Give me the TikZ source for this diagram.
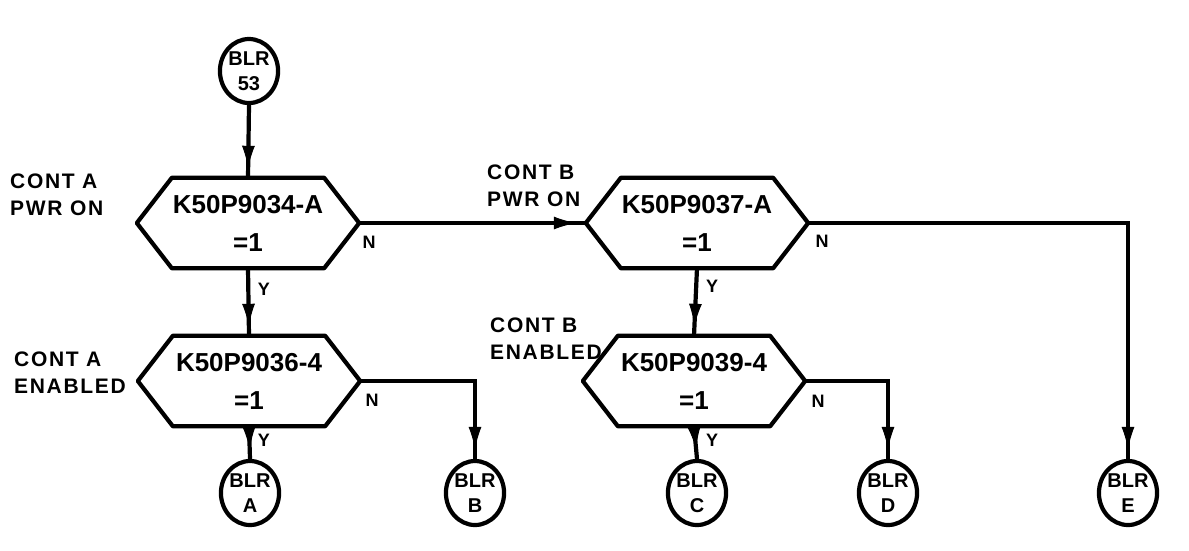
\documentclass[tikz,border=0pt]{standalone}
\usepackage{fontspec}
\setmainfont{Liberation Sans}
\newfontfamily\lblfont[LetterSpace=8]{Liberation Sans}
\usetikzlibrary{shapes.geometric,arrows.meta,decorations.markings}
\tikzset{
  conn/.style={line width=4.2pt,
    postaction={decorate,decoration={markings,
      mark=at position -10pt with {\arrow[line width=1pt]{Latex[length=22pt,width=13pt]}}}}},
  hexbox/.style={minimum width=222pt,minimum height=90pt,inner sep=0pt,
    align=center,font=\fontsize{26}{38}\selectfont\bfseries},
  hexline/.style={line width=4.2pt,line join=round},
  blr/.style={draw,ellipse,line width=4.2pt,minimum width=45pt,minimum height=64pt,
    inner sep=0pt,align=center,font=\fontsize{20}{25}\selectfont\bfseries},
  lbl/.style={align=left,inner sep=0pt,font=\fontsize{21}{27}\selectfont\bfseries\lblfont},
  yn/.style={inner sep=0pt,font=\fontsize{18}{18}\selectfont\bfseries}
}
\begin{document}
\begin{tikzpicture}[x=1pt,y=-1pt]
\useasboundingbox (0,0) rectangle (1189,550);
% start
\node[blr] (s) at (249,71) {BLR\\53};
% decisions
\node[hexbox] (h1) at (248,223) {K50P9034-A\\=1};
\node[hexbox] (h2) at (697,223) {K50P9037-A\\=1};
\node[hexbox] (h3) at (249,381) {K50P9036-4\\=1};
\node[hexbox] (h4) at (694,381) {K50P9039-4\\=1};
\foreach \h in {h1,h2,h3,h4}
  \draw[hexline] (\h.west) -- ([xshift=35pt]\h.north west) -- ([xshift=-35pt]\h.north east)
    -- (\h.east) -- ([xshift=-35pt]\h.south east) -- ([xshift=35pt]\h.south west) -- cycle;
% terminals
\node[blr] (a) at (250,493) {BLR\\A};
\node[blr] (b) at (475,493) {BLR\\B};
\node[blr] (c) at (697,493) {BLR\\C};
\node[blr] (d) at (888,493) {BLR\\D};
\node[blr] (e) at (1128,493) {BLR\\E};
% labels
\node[lbl,anchor=south west] (la1) at (10,216) {CONT A\\PWR ON};
\node[lbl,anchor=south west] (lb1) at (487,207) {CONT B\\PWR ON};
\node[lbl,anchor=south west] (la2) at (14,394) {CONT A\\ENABLED};
\node[lbl,anchor=south west] (lb2) at (490,360) {CONT B\\ENABLED};
% Y / N
\node[yn] (n1) at (369,242) {N};
\node[yn] (y1) at (264,289) {Y};
\node[yn] (n2) at (822,241) {N};
\node[yn] (y2) at (712,286) {Y};
\node[yn] (n3) at (372,400) {N};
\node[yn] (y3) at (264,440) {Y};
\node[yn] (n4) at (818,401) {N};
\node[yn] (y4) at (712,440) {Y};
% connectors
\draw[conn] (s.south) -- (h1.north);
\draw[conn] (h1.east) -- (h2.west);
\draw[conn] (h1.south) -- (h3.north);
\draw[conn] (h2.south) -- (h4.north);
\draw[conn] (h2.east) -| (e.north);
\draw[conn] (h3.south) -- (a.north);
\draw[conn] (h3.east) -| (b.north);
\draw[conn] (h4.south) -- (c.north);
\draw[conn] (h4.east) -| (d.north);
\end{tikzpicture}
\end{document}
